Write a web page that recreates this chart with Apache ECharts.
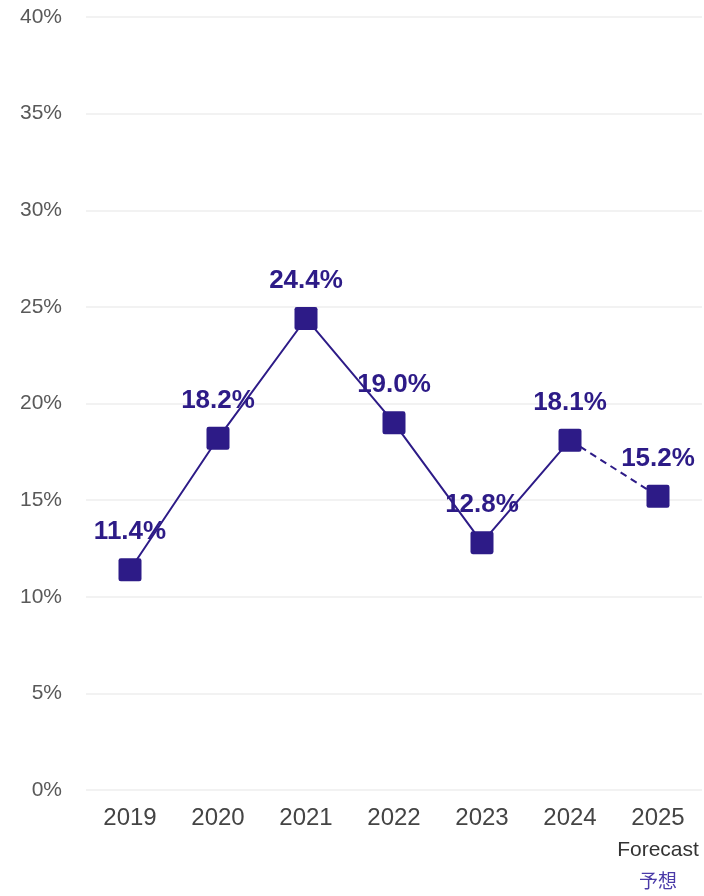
<!DOCTYPE html>
<html>
<head>
<meta charset="utf-8">
<script src="https://cdn.jsdelivr.net/npm/echarts@6/dist/echarts.min.js"></script>
<style>
  html, body { margin: 0; padding: 0; background: #ffffff; }
  #chart { width: 704px; height: 896px; }
</style>
</head>
<body>
<div id="chart"></div>
<script>
  // 年ごとの値 (%)
  var years = ['2019', '2020', '2021', '2022', '2023', '2024', '2025'];
  var values = [11.4, 18.2, 24.4, 19.0, 12.8, 18.1, 15.2];
  var forecastIndex = 6;
  var yTicks = [0, 5, 10, 15, 20, 25, 30, 35, 40];

  var purple = '#2d1b87';
  var sans = '"Liberation Sans", Arial, sans-serif';
  // square with only slightly rounded corners
  var squareMark = 'path://M2,0 H18 Q20,0 20,2 V18 Q20,20 18,20 H2 Q0,20 0,18 V2 Q0,0 2,0 Z';

  // solid part up to last actual year, dashed part to the forecast
  var actual = values.map(function (v, i) { return i < forecastIndex ? v : null; });
  var forecast = values.map(function (v, i) { return i >= forecastIndex - 1 ? v : null; });

  var myChart = echarts.init(document.getElementById('chart'));
  myChart.setOption({
    animation: false,
    grid: {
      left: 86,
      right: 2,
      top: 17,
      bottom: 106,
      outerBoundsMode: 'none'
    },
    xAxis: {
      type: 'category',
      data: years,
      axisLine: { show: false },
      axisTick: { show: false },
      axisLabel: {
        interval: 0,
        margin: 13,
        fontFamily: sans,
        fontSize: 24,
        color: '#444',
        lineHeight: 30,
        formatter: function (val, idx) {
          if (idx === forecastIndex) {
            return val + '\n{f|Forecast}\n{j|予想}';
          }
          return val;
        },
        rich: {
          f: {
            fontFamily: sans,
            fontSize: 21,
            color: '#333',
            lineHeight: 34
          },
          j: {
            fontFamily: '"Noto Sans CJK JP", sans-serif',
            fontSize: 19,
            color: '#4a3aa8',
            lineHeight: 28
          }
        }
      }
    },
    yAxis: {
      type: 'value',
      min: yTicks[0],
      max: yTicks[yTicks.length - 1],
      interval: 5,
      axisLine: { show: false },
      axisTick: { show: false },
      splitLine: { lineStyle: { color: '#eeeeee', width: 1.5 } },
      axisLabel: {
        margin: 24,
        fontFamily: sans,
        fontSize: 21,
        color: '#595959',
        formatter: '{value}%'
      }
    },
    series: [
      {
        type: 'line',
        data: actual,
        symbol: 'none',
        lineStyle: { color: purple, width: 2 },
        z: 2
      },
      {
        type: 'line',
        data: forecast,
        symbol: 'none',
        lineStyle: { color: purple, width: 2, type: [7, 5] },
        z: 2
      },
      {
        type: 'scatter',
        data: values,
        symbol: squareMark,
        symbolSize: 23,
        itemStyle: { color: purple, opacity: 1 },
        z: 3,
        label: {
          show: true,
          position: 'top',
          distance: 13,
          fontFamily: sans,
          fontWeight: 'bold',
          fontSize: 26,
          color: purple,
          formatter: function (p) { return p.value.toFixed(1) + '%'; }
        }
      }
    ]
  });
</script>
</body>
</html>
